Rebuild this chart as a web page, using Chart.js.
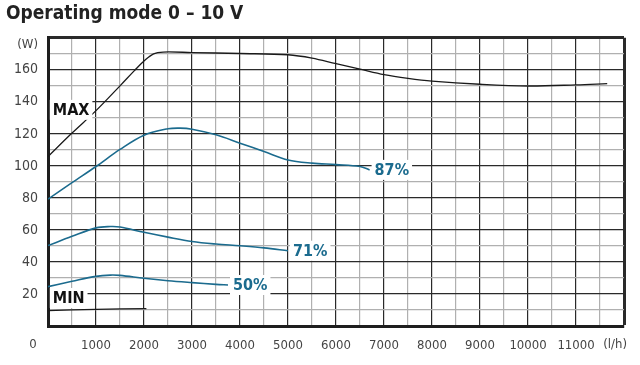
<!DOCTYPE html>
<html>
<head>
<meta charset="utf-8">
<script src="https://cdn.jsdelivr.net/npm/chart.js@4.4.0/dist/chart.umd.min.js"></script>
<style>
  html, body { margin: 0; padding: 0; background: #fff; }
</style>
</head>
<body>
<canvas id="grafico" width="640" height="365"></canvas>
<script>
const FUENTE = "'DejaVu Sans Condensed', 'Liberation Sans Narrow', 'DejaVu Sans', sans-serif";
const AZUL = '#1b6b8e';

// caudal (l/h) y potencia (W)
const flujoMax = [0, 500, 1000, 1500, 1800, 2000, 2200, 2400, 3000, 4000, 5000, 5500, 6000, 6500, 7000, 7500, 8000, 9000, 10000, 11000, 11650];
const potMax = [105.8, 120.5, 134.5, 150, 159.5, 165.5, 170, 171.1, 170.8, 170.2, 169.4, 167.3, 163.8, 160.4, 157, 154.7, 153, 151, 149.9, 150.6, 151.4];
const flujo87 = [0, 500, 1000, 1500, 2000, 2500, 2750, 3000, 3500, 4000, 4500, 5000, 5500, 6000, 6500, 6700];
const pot87 = [79.2, 89.5, 99.6, 110.3, 119.2, 123.2, 123.6, 122.9, 119.4, 114.2, 109, 103.7, 101.7, 100.8, 99.6, 97.5];
const flujo71 = [0, 500, 1000, 1300, 1500, 2000, 2500, 3000, 3500, 4000, 4500, 5000];
const pot71 = [50.2, 56, 61.3, 62.1, 61.8, 58.5, 55.5, 52.8, 51.2, 50.1, 48.8, 47];
const flujo50 = [0, 500, 1000, 1300, 1500, 2000, 2500, 3000, 3500, 3750];
const pot50 = [24.6, 27.9, 31, 31.8, 31.6, 29.8, 28.3, 27.1, 26, 25.6];
const flujoMin = [0, 1000, 2050];
const potMin = [9.6, 10.4, 10.9];

const etiquetasX = [1000, 2000, 3000, 4000, 5000, 6000, 7000, 8000, 9000, 10000, 11000];
const etiquetasY = [20, 40, 60, 80, 100, 120, 140, 160];
const unidadX = '(l/h)';
const unidadY = '(W)';
const titulo = 'Operating mode 0 \u2013 10 V';

const series = [
  { nombre: 'MAX', x: flujoMax, y: potMax, color: '#1a1a1a', ancho: 1.3, texto: '#111' },
  { nombre: '87%', x: flujo87, y: pot87, color: AZUL, ancho: 1.6, texto: AZUL },
  { nombre: '71%', x: flujo71, y: pot71, color: AZUL, ancho: 1.6, texto: AZUL },
  { nombre: '50%', x: flujo50, y: pot50, color: AZUL, ancho: 1.6, texto: AZUL },
  { nombre: 'MIN', x: flujoMin, y: potMin, color: '#1a1a1a', ancho: 1.3, texto: '#111' }
];

// etiquetas de curva con fondo blanco
const rotulos = {
  id: 'rotulos',
  afterDatasetsDraw(chart) {
    const ctx = chart.ctx;
    const xs = chart.scales.x, ys = chart.scales.y;
    ctx.save();
    ctx.font = "bold 16px " + FUENTE;
    ctx.textBaseline = 'middle';
    series.forEach((s, i) => {
      let px, py;
      if (s.nombre === 'MAX') {
        px = xs.getPixelForValue(100); py = ys.getPixelForValue(135);
      } else if (s.nombre === 'MIN') {
        px = xs.getPixelForValue(100); py = ys.getPixelForValue(17.5);
      } else {
        const ult = chart.getDatasetMeta(i).data.at(-1);
        px = ult.x + 5; py = ult.y;
      }
      const w = ctx.measureText(s.nombre).width;
      ctx.fillStyle = '#fff';
      ctx.fillRect(px - 3, py - 10, w + 6, 20);
      ctx.fillStyle = s.texto;
      ctx.fillText(s.nombre, px, py + 1);
    });

    // unidades y origen
    ctx.font = "13px " + FUENTE;
    ctx.fillStyle = '#444';
    ctx.textAlign = 'right';
    ctx.fillText(unidadY, ys.right - 10, ys.getPixelForValue(180) + 7);
    ctx.fillText(unidadX, chart.chartArea.right + 3, 345);
    ctx.textAlign = 'center';
    ctx.fillText('0', xs.getPixelForValue(0) - 15, 345);
    ctx.restore();
  }
};

new Chart(document.getElementById('grafico'), {
  type: 'line',
  data: {
    datasets: series.map(s => ({
      label: s.nombre,
      data: s.x.map((v, k) => ({ x: v, y: s.y[k] })),
      borderColor: s.color,
      borderWidth: s.ancho,
      pointRadius: 0,
      fill: false,
      tension: 0.35
    }))
  },
  options: {
    responsive: false,
    animation: false,
    devicePixelRatio: 1,
    layout: { padding: { left: 6, right: 16, top: 0, bottom: 0 } },
    plugins: {
      legend: { display: false },
      tooltip: { enabled: false },
      title: {
        display: true,
        text: titulo,
        align: 'start',
        color: '#222',
        font: { family: FUENTE, size: 19, weight: 'bold', lineHeight: 1.2 },
        padding: { top: 3, bottom: 12 }
      }
    },
    scales: {
      x: {
        type: 'linear',
        min: 0, max: 12000,
        afterFit: s => { s.height = 39; },
        ticks: {
          stepSize: 500, autoSkip: false, maxRotation: 0, padding: 12,
          color: '#444', font: { family: FUENTE, size: 13 },
          callback: v => etiquetasX.includes(v) ? String(v) : ''
        },
        grid: {
          drawTicks: false,
          color: c => c.tick.value % 1000 === 0 ? '#2a2a2a' : '#b0b0b0',
          lineWidth: c => c.tick.value === 12000 ? 3 : 1.2
        },
        border: { display: true, width: 3, color: '#1e1e1e' }
      },
      y: {
        min: 0, max: 180,
        afterFit: s => { s.width = 42; },
        ticks: {
          stepSize: 10, autoSkip: false, padding: 10,
          color: '#444', font: { family: FUENTE, size: 14 },
          callback: v => etiquetasY.includes(v) ? String(v) : ''
        },
        grid: {
          drawTicks: false,
          color: c => c.tick.value % 20 === 0 ? '#2a2a2a' : '#b0b0b0',
          lineWidth: c => c.tick.value === 180 ? 3 : 1.2
        },
        border: { display: true, width: 3, color: '#1e1e1e' }
      }
    }
  },
  plugins: [rotulos]
});
</script>
</body>
</html>
